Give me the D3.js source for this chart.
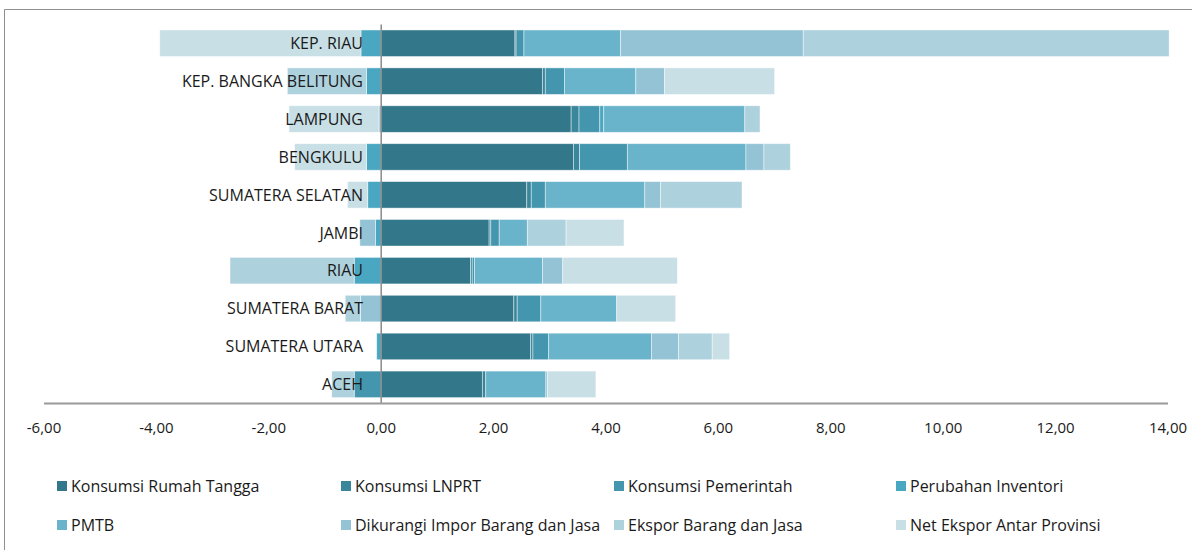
<!DOCTYPE html>
<html>
<head>
<meta charset="utf-8">
<script src="https://cdn.jsdelivr.net/npm/d3@7"></script>
<style>
  html, body { margin: 0; padding: 0; background: #fff; }
  svg { display: block; font-family: "Open Sans", "Noto Sans", sans-serif; }
</style>
</head>
<body>
<svg id="chart" width="1192" height="550"></svg>
<script>
// ---- data ----
const categories = ["KEP. RIAU", "KEP. BANGKA BELITUNG", "LAMPUNG", "BENGKULU", "SUMATERA SELATAN",
  "JAMBI", "RIAU", "SUMATERA BARAT", "SUMATERA UTARA", "ACEH"];
const seriesNames = ["Konsumsi Rumah Tangga", "Konsumsi LNPRT", "Konsumsi Pemerintah", "Perubahan Inventori",
  "PMTB", "Dikurangi Impor Barang dan Jasa", "Ekspor Barang dan Jasa", "Net Ekspor Antar Provinsi"];
const konsumsiRT     = [2.38, 2.87, 3.38, 3.42, 2.59, 1.92, 1.59, 2.36, 2.66, 1.80];
const konsumsiLNPRT  = [0.02, 0.05, 0.14, 0.11, 0.08, 0.03, 0.03, 0.06, 0.04, 0.06];
const konsumsiPem    = [0.14, 0.34, 0.37, 0.85, 0.25, 0.15, 0.04, 0.42, 0.28, -0.48];
const inventori      = [-0.36, -0.26, 0.07, -0.26, -0.24, -0.10, -0.48, 0.00, -0.08, 0.00];
const pmtb           = [1.72, 1.27, 2.51, 2.11, 1.77, 0.50, 1.21, 1.35, 1.83, 1.07];
const impor          = [3.25, 0.51, -0.04, 0.32, 0.28, -0.28, 0.36, -0.37, 0.48, 0.03];
const ekspor         = [6.51, -1.41, 0.27, 0.47, 1.45, 0.69, -2.21, -0.27, 0.60, -0.40];
const netEksporProv  = [-3.58, 1.96, -1.60, -1.28, -0.36, 1.03, 2.04, 1.05, 0.31, 0.86];
const xTicks = [-6, -4, -2, 0, 2, 4, 6, 8, 10, 12, 14];
const colors = ["#33778a", "#3a879b", "#4396ad", "#4aa7c2", "#69b4cb", "#93c3d5", "#aed1de", "#c8dfe6"];

const seriesValues = [konsumsiRT, konsumsiLNPRT, konsumsiPem, inventori, pmtb, impor, ekspor, netEksporProv];
const rows = categories.map((c, i) => {
  const o = { cat: c };
  seriesNames.forEach((s, j) => { o[s] = seriesValues[j][i]; });
  return o;
});

// ---- layout ----
const svg = d3.select("#chart");
const x = d3.scaleLinear().domain([-6, 14]).range([44, 1168]);
const y = d3.scaleBand().domain(categories).range([24.3, 403.3]).paddingInner(0.3).paddingOuter(0.15);
const color = d3.scaleOrdinal().domain(seriesNames).range(colors);

// frame
svg.append("path")
  .attr("d", "M4.5,550 L4.5,9.5 L1192,9.5")
  .attr("fill", "none").attr("stroke", "#8f8f8f").attr("stroke-width", 1);

const stack = d3.stack().keys(seriesNames).offset(d3.stackOffsetDiverging);
const stacked = stack(rows);

svg.append("g").selectAll("g").data(stacked).join("g")
  .attr("fill", d => color(d.key))
  .selectAll("rect").data(d => d).join("rect")
  .attr("x", d => x(Math.min(d[0], d[1])))
  .attr("width", d => Math.abs(x(d[1]) - x(d[0])))
  .attr("y", d => y(d.data.cat))
  .attr("height", y.bandwidth())
  .attr("stroke", "rgba(255,255,255,0.55)")
  .attr("stroke-width", 0.8);

// zero line
svg.append("line")
  .attr("x1", x(0)).attr("x2", x(0))
  .attr("y1", 24.5).attr("y2", 403)
  .attr("stroke", "#8a8a8a").attr("stroke-width", 1.5);

// x axis line
svg.append("line")
  .attr("x1", x(-6)).attr("x2", x(14))
  .attr("y1", 403.5).attr("y2", 403.5)
  .attr("stroke", "#9a9a9a").attr("stroke-width", 2);

// category labels
svg.append("g").selectAll("text").data(categories).join("text")
  .attr("x", 363)
  .attr("y", d => y(d) + y.bandwidth() / 2)
  .attr("dy", "0.36em")
  .attr("text-anchor", "end")
  .attr("font-size", 16)
  .attr("fill", "#1a1a1a")
  .text(d => d);

// tick labels
const fmt = v => d3.format(".2f")(v).replace("−", "-").replace(".", ",");
svg.append("g").selectAll("text").data(xTicks).join("text")
  .attr("x", d => x(d))
  .attr("y", 428)
  .attr("dy", "0.36em")
  .attr("text-anchor", "middle")
  .attr("font-size", 15)
  .attr("fill", "#1a1a1a")
  .text(d => fmt(d));

// legend
const legX = [57, 341, 614, 896];
const legY = [486, 525];
const leg = svg.append("g").selectAll("g").data(seriesNames).join("g")
  .attr("transform", (d, i) => `translate(${legX[i % 4]},${legY[Math.floor(i / 4)]})`);
leg.append("rect").attr("x", 0).attr("y", -5).attr("width", 10).attr("height", 10)
  .attr("fill", d => color(d));
leg.append("text").attr("x", 14).attr("y", 0).attr("dy", "0.36em")
  .attr("font-size", 16).attr("fill", "#1a1a1a").text(d => d);
</script>
</body>
</html>
